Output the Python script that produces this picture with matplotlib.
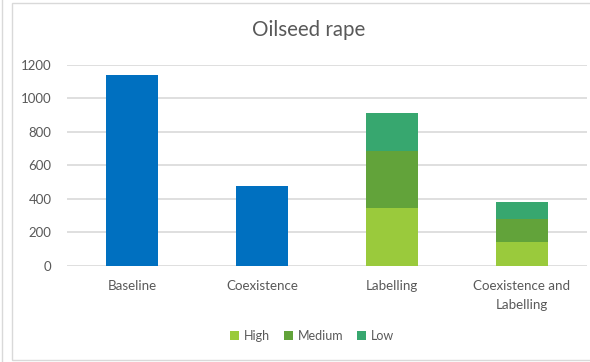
import matplotlib
matplotlib.use("Agg")
import matplotlib.pyplot as plt
from matplotlib.patches import Rectangle
from matplotlib.lines import Line2D
import numpy as np

categories = ["Baseline", "Coexistence", "Labelling", "Coexistence and\nLabelling"]
total = [1140, 477, None, None]
high = [0, 0, 346, 143]
medium = [0, 0, 338, 139]
low = [0, 0, 230, 101]
yticks = [0, 200, 400, 600, 800, 1000, 1200]

blue = "#0070C0"
c_high = "#9ACA3C"
c_med = "#62A33A"
c_low = "#37A76F"
txt = "#595959"

plt.rcParams["font.family"] = ["Lato", "DejaVu Sans"]

fig = plt.figure(figsize=(5.9, 3.62), dpi=100)
W, H = 590, 362
ax = fig.add_axes([67 / W, 1 - 266 / H, 520 / W, (266 - 64.7) / H])

x = np.arange(len(categories))
bw = 0.4
single = [v if v is not None else 0 for v in total]
ax.bar(x[:2], single[:2], width=bw, color=blue, zorder=3)
hb = np.array(high)
mb = np.array(medium)
lb = np.array(low)
ax.bar(x[2:], hb[2:], width=bw, color=c_high, zorder=3, label="High")
ax.bar(x[2:], mb[2:], bottom=hb[2:], width=bw, color=c_med, zorder=3, label="Medium")
ax.bar(x[2:], lb[2:], bottom=(hb + mb)[2:], width=bw, color=c_low, zorder=3, label="Low")

ax.set_xlim(-0.5, len(categories) - 0.5)
ax.set_ylim(0, 1200)
ax.set_yticks(yticks)
ax.set_yticklabels([str(v) for v in yticks], fontsize=9.5, color=txt)
ax.set_xticks(x)
ax.set_xticklabels(categories, fontsize=9.6, color=txt, linespacing=1.7)
ax.tick_params(axis="both", length=0)
ax.tick_params(axis="y", pad=11)
ax.tick_params(axis="x", pad=10)
ax.grid(axis="y", color="#D9D9D9", linewidth=1.2, zorder=0)
for s in ax.spines.values():
    s.set_visible(False)

fig.text(309 / W, 1 - 30 / H, "Oilseed rape", fontsize=14.8, color=txt,
         ha="center", va="center")

leg = fig.legend(loc="center", bbox_to_anchor=(312 / W, 1 - 336 / H), ncol=3,
                 frameon=False, fontsize=9, handlelength=0.7, handleheight=0.7,
                 handletextpad=0.4, columnspacing=1.1)
for t in leg.get_texts():
    t.set_color(txt)

# chart border
fig.patches.append(Rectangle((12 / W, 1 - 360 / H), (W + 5 - 12) / W, (360 - 3) / H,
                             transform=fig.transFigure, fill=False,
                             edgecolor="#D9D9D9", linewidth=1))
fig.lines.append(Line2D([2 / W, 2 / W], [0, 1], transform=fig.transFigure,
                        color="#D9D9D9", linewidth=1))

fig.savefig("out.png", dpi=100)
